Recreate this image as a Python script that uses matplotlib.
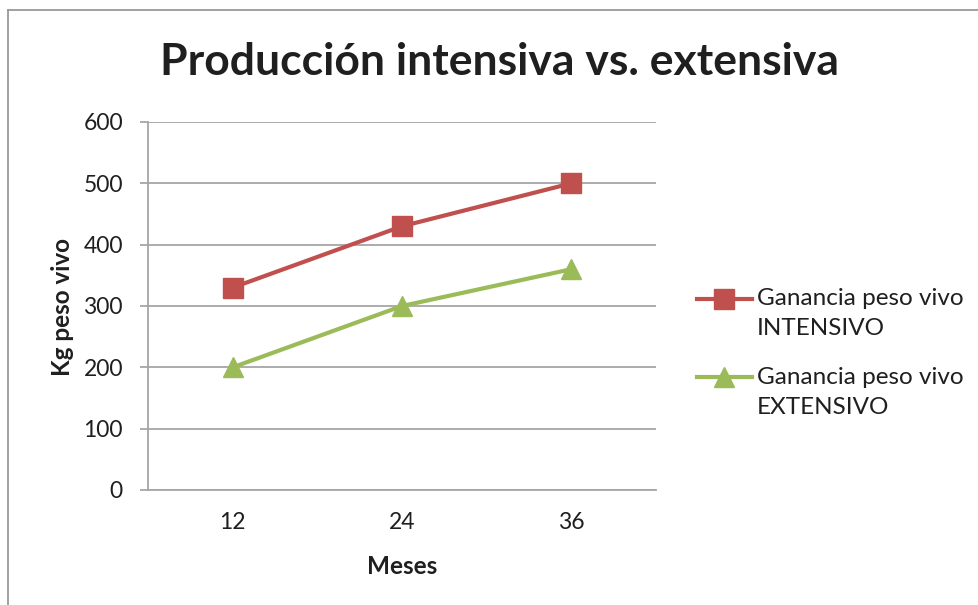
import matplotlib
matplotlib.use("Agg")
import matplotlib.pyplot as plt
from matplotlib.lines import Line2D
from matplotlib.legend_handler import HandlerLine2D

months = ["12", "24", "36"]
intensivo = [330, 430, 500]
extensivo = [200, 300, 360]
yticks = [0, 100, 200, 300, 400, 500, 600]
title = "Producción intensiva vs. extensiva"
ylabel = "Kg peso vivo"
xlabel = "Meses"
labels = ["Ganancia peso vivo\nINTENSIVO", "Ganancia peso vivo\nEXTENSIVO"]


class TopAlignedHandler(HandlerLine2D):
    """Place the legend handle next to the first line of a two-line label."""
    def __init__(self, shift, **kw):
        super().__init__(**kw)
        self.shift = shift

    def create_artists(self, legend, orig_handle, xdescent, ydescent,
                       width, height, fontsize, trans):
        arts = super().create_artists(legend, orig_handle, xdescent, ydescent,
                                      width, height, fontsize, trans)
        for a in arts:
            a.set_ydata([y + self.shift for y in a.get_ydata()])
        return arts


plt.rcParams['font.family'] = ['Lato', 'DejaVu Sans']
fig = plt.figure(figsize=(9.79, 6.05), dpi=100)
ax = fig.add_axes([148/979, 1-490/605, 508/979, 368/605])

x = list(range(len(months)))
red = "#C0504D"
green = "#9BBB59"
grid = "#A6A6A6"
txt = "#1F1F1F"
l1, = ax.plot(x, intensivo, color=red, lw=3, marker="s", markersize=14, zorder=3)
l2, = ax.plot(x, extensivo, color=green, lw=3, marker="^", markersize=15, zorder=3)

ax.set_xlim(-0.5, 2.5)
ax.set_ylim(0, 600)
ax.set_yticks(yticks)
ax.set_xticks(x)
ax.set_xticklabels(months)
ax.yaxis.grid(True, color=grid, lw=1.3)
ax.set_axisbelow(True)
for s in ["top", "right"]:
    ax.spines[s].set_visible(False)
for s in ["left", "bottom"]:
    ax.spines[s].set_color(grid)
    ax.spines[s].set_linewidth(1.3)
ax.tick_params(axis="y", length=6, color=grid, width=1.3, labelsize=16.5, pad=12, labelcolor=txt)
ax.tick_params(axis="x", length=0, labelsize=16.5, pad=16, labelcolor=txt)

fig.text(499/979, 1-62/605, title, ha="center", va="center", fontsize=32, fontweight="bold", color=txt)
fig.text(62/979, 1-307/605, ylabel, ha="center", va="center", rotation=90, fontsize=17.5, fontweight="bold", color=txt)
fig.text(402/979, 1-566/605, xlabel, ha="center", va="center", fontsize=17.5, fontweight="bold", color=txt)

shift = 10.8
leg = fig.legend([l1, l2], labels, loc="center left", bbox_to_anchor=(697/979, 1-353/605),
                 frameon=False, fontsize=17.5, handlelength=2.26, handletextpad=0.2,
                 labelspacing=1.16, borderpad=0, borderaxespad=0, labelcolor=txt,
                 handler_map={l1: TopAlignedHandler(shift), l2: TopAlignedHandler(shift)})
for t in leg.get_texts():
    t.set_linespacing(1.5)

# outer border (left and top)
fig.add_artist(Line2D([8/979, 8/979], [0, 1-10/605], transform=fig.transFigure, color="#999999", lw=1.3))
fig.add_artist(Line2D([8/979, 1], [1-10/605, 1-10/605], transform=fig.transFigure, color="#999999", lw=1.3))

fig.savefig("out.png", dpi=100)
